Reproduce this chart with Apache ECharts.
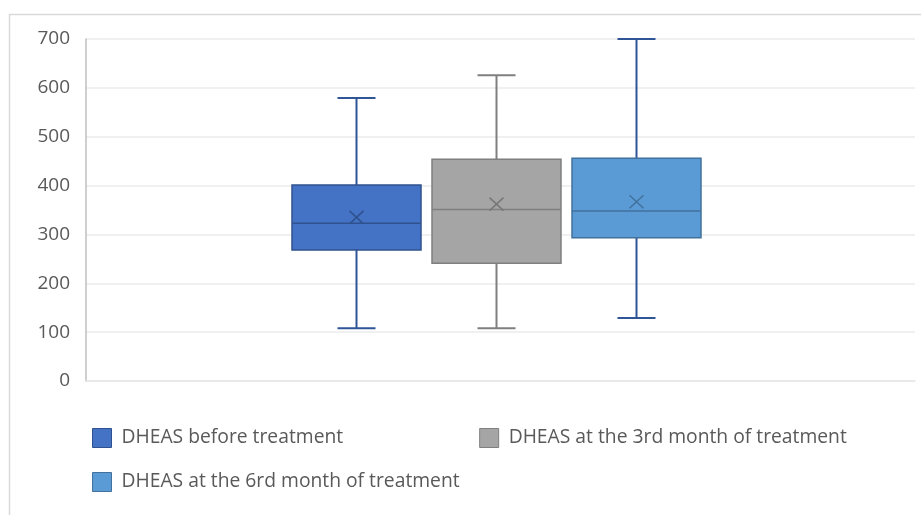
<!DOCTYPE html>
<html>
<head>
<meta charset="utf-8">
<script src="https://cdn.jsdelivr.net/npm/echarts@6/dist/echarts.min.js"></script>
<style>
  html, body { margin: 0; padding: 0; background: #fff; }
  #chart { width: 921px; height: 515px; }
</style>
</head>
<body>
<div id="chart"></div>
<script>
// one box per treatment stage
const seriesNames = [
  'DHEAS before treatment',
  'DHEAS at the 3rd month of treatment',
  'DHEAS at the 6rd month of treatment'
];
const minVals = [108, 108, 129];
const q1Vals = [268, 241, 293];
const medianVals = [323, 351, 348];
const q3Vals = [401, 454, 456];
const maxVals = [579, 626, 700];
const meanVals = [335, 362, 367];
const yTicks = [0, 100, 200, 300, 400, 500, 600, 700];

const fills = ['#4472C4', '#A5A5A5', '#5B9BD5'];
const borders = ['#2F528F', '#7F7F7F', '#41719C'];
const whiskerColors = ['#2F5597', '#7F7F7F', '#2F5597'];
const markColors = ['#2F528F', '#787878', '#41719C'];

const boxWidth = 129;
const boxStep = 140;
const groupShift = -4;
const capWidth = 38;

function makeRender(idx) {
  return function (params, api) {
    const center = api.coord([0, api.value(3)]);
    const cx = center[0] + (idx - 1) * boxStep + groupShift;
    const y = function (dim) { return api.coord([0, api.value(dim)])[1]; };
    const yMin = y(1), yQ1 = y(2), yMed = y(3), yQ3 = y(4), yMax = y(5), yMean = y(6);
    const hw = boxWidth / 2, cw = capWidth / 2, m = 7;
    const wStyle = { stroke: whiskerColors[idx], lineWidth: 2, fill: null };
    const bStyle = { stroke: borders[idx], lineWidth: 1.5, fill: null };
    return {
      type: 'group',
      children: [
        { type: 'line', shape: { x1: cx, y1: yQ3, x2: cx, y2: yMax }, style: wStyle },
        { type: 'line', shape: { x1: cx, y1: yQ1, x2: cx, y2: yMin }, style: wStyle },
        { type: 'line', shape: { x1: cx - cw, y1: yMax, x2: cx + cw, y2: yMax }, style: wStyle },
        { type: 'line', shape: { x1: cx - cw, y1: yMin, x2: cx + cw, y2: yMin }, style: wStyle },
        { type: 'rect', shape: { x: cx - hw, y: yQ3, width: boxWidth, height: yQ1 - yQ3 },
          style: { fill: fills[idx], stroke: borders[idx], lineWidth: 1.5 } },
        { type: 'line', shape: { x1: cx - hw, y1: yMed, x2: cx + hw, y2: yMed }, style: bStyle },
        { type: 'line', shape: { x1: cx - m, y1: yMean - 6.5, x2: cx + m, y2: yMean + 6.5 },
          style: { stroke: markColors[idx], lineWidth: 1.5 } },
        { type: 'line', shape: { x1: cx - m, y1: yMean + 6.5, x2: cx + m, y2: yMean - 6.5 },
          style: { stroke: markColors[idx], lineWidth: 1.5 } }
      ]
    };
  };
}

const series = seriesNames.map(function (name, i) {
  return {
    name: name,
    type: 'custom',
    renderItem: makeRender(i),
    itemStyle: { color: fills[i], borderColor: borders[i] },
    encode: { x: 0, y: [1, 2, 3, 4, 5, 6] },
    data: [[0, minVals[i], q1Vals[i], medianVals[i], q3Vals[i], maxVals[i], meanVals[i]]],
    z: 3
  };
});

const legendText = { color: '#595959', fontSize: 19.3, fontFamily: 'Open Sans', padding: [0, 0, 0, 5] };
function legendItem(i) {
  return { name: seriesNames[i], itemStyle: { color: fills[i], borderColor: borders[i], borderWidth: 1 } };
}

const chart = echarts.init(document.getElementById('chart'));
chart.setOption({
  animation: false,
  backgroundColor: '#fff',
  graphic: [{
    type: 'rect',
    left: 7, top: 12,
    shape: { width: 1000, height: 600 },
    style: { fill: null, stroke: '#d9d9d9', lineWidth: 1.5 },
    silent: true
  }],
  grid: { left: 86, right: 6, top: 39, bottom: 134 },
  legend: [{
    left: 92, top: 428, padding: 0,
    itemWidth: 19, itemHeight: 19, itemGap: 136,
    icon: 'rect',
    textStyle: legendText,
    data: [legendItem(0), legendItem(1)]
  }, {
    left: 92, top: 472, padding: 0,
    itemWidth: 19, itemHeight: 19,
    icon: 'rect',
    textStyle: legendText,
    data: [legendItem(2)]
  }],
  xAxis: {
    type: 'category',
    data: [''],
    axisLine: { show: true, lineStyle: { color: '#e6e6e6', width: 1.5 } },
    axisTick: { show: false },
    axisLabel: { show: false }
  },
  yAxis: {
    type: 'value',
    min: yTicks[0],
    max: yTicks[yTicks.length - 1],
    interval: 100,
    axisLine: { show: true, lineStyle: { color: '#bfbfbf', width: 1.5 } },
    axisTick: { show: false },
    axisLabel: { color: '#595959', fontSize: 19, fontFamily: 'Open Sans', margin: 16 },
    splitLine: { lineStyle: { color: '#ebebeb', width: 1.5 } }
  },
  series: series
});
</script>
</body>
</html>
